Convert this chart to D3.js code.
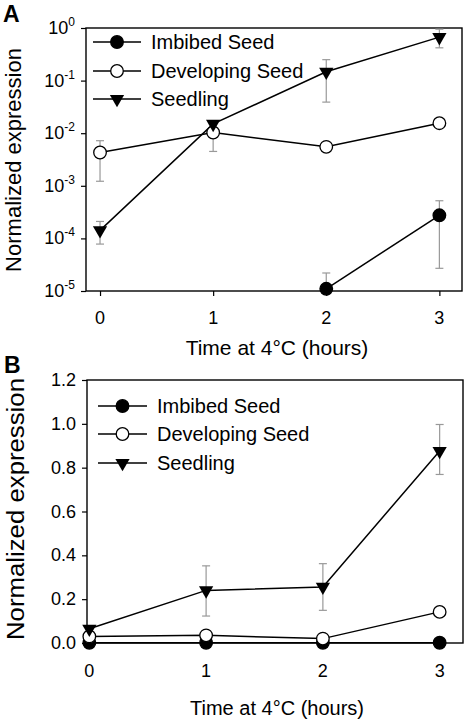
<!DOCTYPE html>
<html><head><meta charset="utf-8">
<script src="https://cdn.jsdelivr.net/npm/d3@7"></script>
<style>
html,body{margin:0;padding:0;background:#fff;}
svg{display:block;font-family:"Liberation Sans",Arial,Helvetica,sans-serif;}
</style></head>
<body>
<svg id="chart" width="465" height="721"></svg>
<script>
const hours = [0, 1, 2, 3];
const seriesNames = ["Imbibed Seed", "Developing Seed", "Seedling"];
const xTickLabels = ["0", "1", "2", "3"];
const xTitle = "Time at 4°C (hours)";
const yTitle = "Normalized expression";

// Panel A (log scale)
const A_imbibed = [null, null, 1.1e-5, 2.75e-4];
const A_imbibedHi = [null, null, 2.2e-5, 5.2e-4];
const A_imbibedLo = [null, null, null, 2.7e-5];
const A_developing = [4.3e-3, 1.03e-2, 5.5e-3, 1.55e-2];
const A_developingHi = [7.2e-3, 1.5e-2, null, null];
const A_developingLo = [1.22e-3, 4.5e-3, null, null];
const A_seedling = [1.42e-4, 1.5e-2, 0.147, 0.67];
const A_seedlingHi = [2.1e-4, null, 0.25, 0.95];
const A_seedlingLo = [7.8e-5, null, 0.039, 0.42];
const A_yTicks = [1e-5, 1e-4, 1e-3, 1e-2, 1e-1, 1];
const A_yTickExp = ["-5", "-4", "-3", "-2", "-1", "0"];

// Panel B (linear scale)
const B_imbibed = [0.001, 0.001, 0.001, 0.001];
const B_developing = [0.03, 0.035, 0.02, 0.142];
const B_seedling = [0.065, 0.24, 0.256, 0.876];
const B_seedlingHi = [null, 0.352, 0.362, 0.997];
const B_seedlingLo = [null, 0.123, 0.149, 0.769];
const B_yTicks = [0, 0.2, 0.4, 0.6, 0.8, 1.0, 1.2];

const svg = d3.select("#chart");

const triSym = d3.symbol().type(d3.symbolTriangle).size(88);

function drawMarker(g, type, x, y) {
  if (type === 0) {
    g.append("circle").attr("cx", x).attr("cy", y).attr("r", 6.3)
      .attr("fill", "#000").attr("stroke", "#000").attr("stroke-width", 1.3);
  } else if (type === 1) {
    g.append("circle").attr("cx", x).attr("cy", y).attr("r", 6.3)
      .attr("fill", "#fff").attr("stroke", "#000").attr("stroke-width", 1.3);
  } else {
    g.append("path").attr("d", triSym())
      .attr("transform", `translate(${x},${y}) rotate(180)`)
      .attr("fill", "#000");
  }
}

function panel(cfg) {
  const g = svg.append("g");
  const x = d3.scaleLinear().domain(cfg.xDomain).range([cfg.left, cfg.right]);
  const y = cfg.y;

  // frame
  g.append("rect").attr("x", cfg.left).attr("y", cfg.top)
    .attr("width", cfg.right - cfg.left).attr("height", cfg.bottom - cfg.top)
    .attr("fill", "none").attr("stroke", "#000").attr("stroke-width", 1.4);

  // y axis
  const yAxis = d3.axisLeft(y).tickValues(cfg.yTicks).tickSize(5).tickFormat("");
  const ya = g.append("g").attr("transform", `translate(${cfg.left},0)`).call(yAxis);
  ya.select(".domain").remove();
  ya.selectAll(".tick line").attr("stroke", "#000").attr("stroke-width", 1.2);
  cfg.yTicks.forEach((t, i) => {
    const tx = g.append("text").attr("x", cfg.left - 11).attr("y", y(t) + 6)
      .attr("text-anchor", "end").attr("font-size", 18).attr("fill", "#000");
    if (cfg.log) {
      tx.append("tspan").text("10");
      tx.append("tspan").attr("dy", -8).attr("font-size", 12).text(A_yTickExp[i]);
    } else {
      tx.text(d3.format(".1f")(t));
    }
  });

  // x axis
  const xAxis = d3.axisBottom(x).tickValues(hours).tickSize(cfg.xTickSize).tickFormat("");
  const xa = g.append("g").attr("transform", `translate(0,${cfg.bottom})`).call(xAxis);
  xa.select(".domain").remove();
  xa.selectAll(".tick line").attr("stroke", "#000").attr("stroke-width", 1.2);
  hours.forEach((h, i) => {
    g.append("text").attr("x", x(h)).attr("y", cfg.bottom + cfg.xLabelDy)
      .attr("text-anchor", "middle").attr("font-size", 18).text(xTickLabels[i]);
  });

  // titles
  g.append("text").attr("x", cfg.xTitleX).attr("y", cfg.xTitleY)
    .attr("text-anchor", "middle").attr("font-size", cfg.xTitleSize).text(xTitle);
  const yt = g.append("text")
    .attr("transform", `translate(${cfg.yTitleX},${cfg.yTitleY}) rotate(-90)`)
    .attr("text-anchor", "middle").attr("font-size", cfg.yTitleSize).text(yTitle);
  if (cfg.yTitleLen) yt.attr("textLength", cfg.yTitleLen).attr("lengthAdjust", "spacingAndGlyphs");

  g.append("text").attr("x", cfg.labelX).attr("y", cfg.labelY)
    .attr("font-size", 23).attr("font-weight", "bold").text(cfg.label);

  // error bars
  const eg = g.append("g");
  cfg.series.forEach(s => {
    hours.forEach((h, i) => {
      if (s.vals[i] == null) return;
      const cx = x(h), cy = y(s.vals[i]);
      [s.hi ? s.hi[i] : null, s.lo ? s.lo[i] : null].forEach(v => {
        if (v == null) return;
        const ey = y(v);
        eg.append("line").attr("x1", cx).attr("x2", cx).attr("y1", cy).attr("y2", ey)
          .attr("stroke", "#999").attr("stroke-width", 1.2);
        eg.append("line").attr("x1", cx - 4).attr("x2", cx + 4).attr("y1", ey).attr("y2", ey)
          .attr("stroke", "#999").attr("stroke-width", 1.2);
      });
    });
  });

  // lines and markers
  cfg.series.forEach(s => {
    const pts = hours.map((h, i) => [h, s.vals[i]]).filter(p => p[1] != null);
    const line = d3.line().x(p => x(p[0])).y(p => y(p[1]));
    g.append("path").attr("d", line(pts)).attr("fill", "none")
      .attr("stroke", "#000").attr("stroke-width", 1.5);
  });
  cfg.series.forEach(s => {
    hours.forEach((h, i) => {
      if (s.vals[i] == null) return;
      drawMarker(g, s.type, x(h), y(s.vals[i]));
    });
  });

  // legend
  seriesNames.forEach((name, i) => {
    const ly = cfg.legY[i];
    g.append("line").attr("x1", cfg.legX1).attr("x2", cfg.legX2).attr("y1", ly).attr("y2", ly)
      .attr("stroke", "#000").attr("stroke-width", 1.5);
    drawMarker(g, i, (cfg.legX1 + cfg.legX2) / 2, ly);
    g.append("text").attr("x", cfg.legTextX).attr("y", ly + 7)
      .attr("font-size", 20).text(name);
  });
}

panel({
  label: "A", labelX: 3, labelY: 22,
  left: 86, right: 462, top: 28, bottom: 291,
  xDomain: [-0.124, 3.2],
  y: d3.scaleLog().domain([1e-5, 1]).range([291, 28]),
  yTicks: A_yTicks, log: true,
  xTickSize: 5, xLabelDy: 33,
  xTitleX: 277, xTitleY: 355, xTitleSize: 21,
  yTitleX: 21, yTitleY: 160, yTitleSize: 22,
  legX1: 93, legX2: 141, legY: [42, 71, 99], legTextX: 151,
  series: [
    {type: 0, vals: A_imbibed, hi: A_imbibedHi, lo: A_imbibedLo},
    {type: 1, vals: A_developing, hi: A_developingHi, lo: A_developingLo},
    {type: 2, vals: A_seedling, hi: A_seedlingHi, lo: A_seedlingLo}
  ]
});

panel({
  label: "B", labelX: 4, labelY: 373,
  left: 87, right: 463, top: 380, bottom: 643,
  xDomain: [-0.02, 3.2],
  y: d3.scaleLinear().domain([0, 1.2]).range([643, 380]),
  yTicks: B_yTicks, log: false,
  xTickSize: 0, xLabelDy: 34,
  xTitleX: 277, xTitleY: 715, xTitleSize: 20,
  yTitleX: 24, yTitleY: 509, yTitleSize: 23, yTitleLen: 262,
  legX1: 98, legX2: 147, legY: [406, 434, 463], legTextX: 157,
  series: [
    {type: 0, vals: B_imbibed},
    {type: 1, vals: B_developing},
    {type: 2, vals: B_seedling, hi: B_seedlingHi, lo: B_seedlingLo}
  ]
});
</script>
</body></html>
